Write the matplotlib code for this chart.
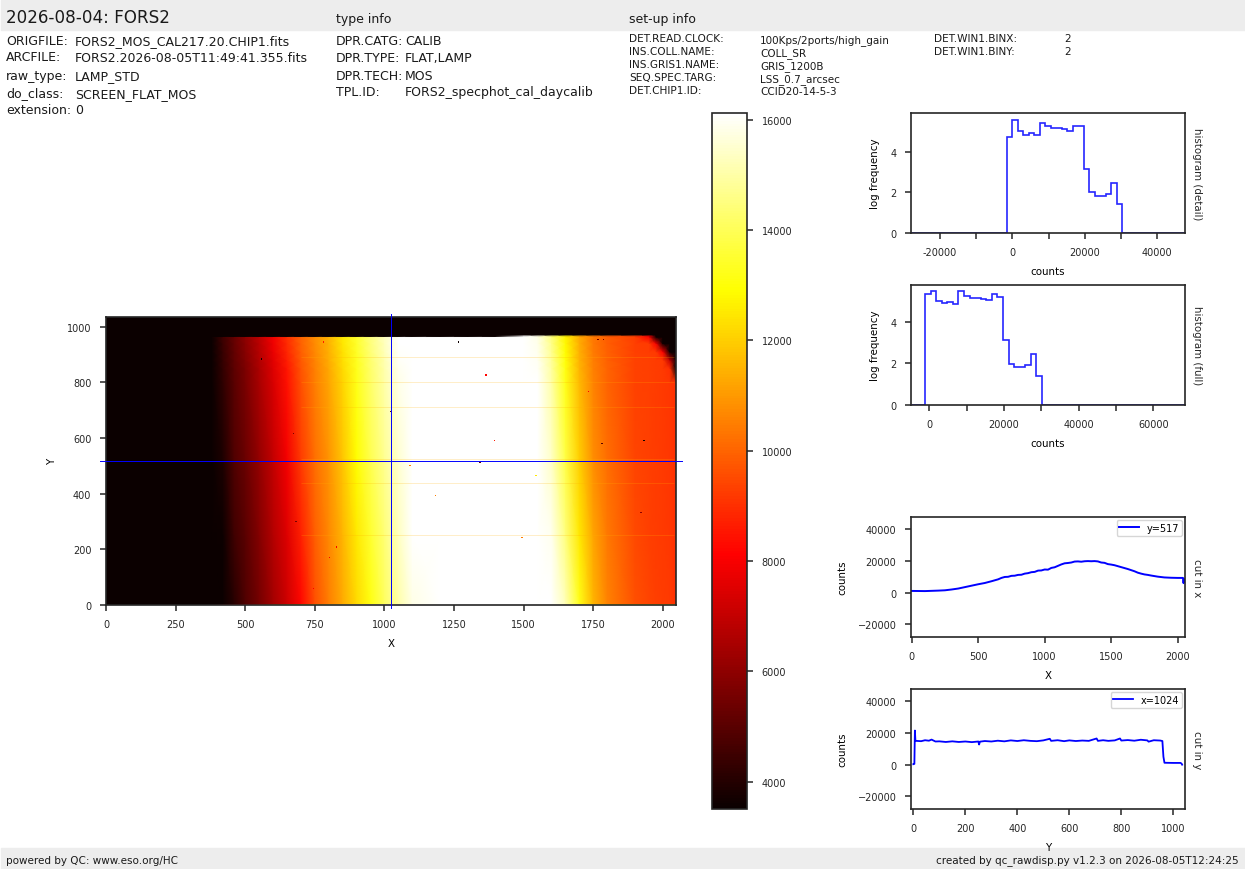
"""Raw frame display page: image with crosshair, histograms and cuts."""
import matplotlib
matplotlib.use('Agg')
import matplotlib.pyplot as plt
import numpy as np

W, H = 1245, 870

# header text
title = '2026-08-04: FORS2'
left_keys = ['ORIGFILE:', 'ARCFILE:', 'raw_type:', 'do_class:', 'extension:']
left_vals = ['FORS2_MOS_CAL217.20.CHIP1.fits', 'FORS2.2026-08-05T11:49:41.355.fits',
             'LAMP_STD', 'SCREEN_FLAT_MOS', '0']
type_keys = ['DPR.CATG:', 'DPR.TYPE:', 'DPR.TECH:', 'TPL.ID:']
type_vals = ['CALIB', 'FLAT,LAMP', 'MOS', 'FORS2_specphot_cal_daycalib']
setup_keys = ['DET.READ.CLOCK:', 'INS.COLL.NAME:', 'INS.GRIS1.NAME:', 'SEQ.SPEC.TARG:', 'DET.CHIP1.ID:']
setup_vals = ['100Kps/2ports/high_gain', 'COLL_SR', 'GRIS_1200B', 'LSS_0.7_arcsec', 'CCID20-14-5-3']
setup2_keys = ['DET.WIN1.BINX:', 'DET.WIN1.BINY:']
setup2_vals = ['2', '2']

x_knots = [0, 300, 380, 420, 460, 500, 550, 600, 650, 700, 750, 800, 850, 900, 950, 1000, 1050,
           1100, 1200, 1300, 1400, 1500, 1550, 1600, 1650, 1700, 1750, 1800, 1900, 1950, 1975,
           2000, 2025, 2047]
y_knots = [0, 3, 4.5, 250, 520, 800, 850, 880, 910, 940, 964, 966, 972, 1035]
row_bottom = [1000, 2500, 3800, 5000, 6500, 7500, 8800, 10000, 11200, 12300, 12900, 13800, 14800,
              15500, 16000, 16500, 17000, 17200, 17500, 17800, 17800, 17500, 17000, 16300, 15500,
              14500, 13500, 13000, 12900, 12900, 12900, 12900, 12900, 12900]
row_5 = [1000, 1800, 2600, 3400, 4100, 4800, 5500, 6400, 7200, 8200, 9600, 10500, 11300, 12200,
         13100, 14100, 15000, 15800, 17300, 19000, 19600, 18200, 17200, 16300, 15200, 13200, 11500,
         10600, 9600, 9400, 9300, 9250, 9200, 9000]
row_250 = [1000, 1900, 2800, 3600, 4500, 5000, 5800, 6700, 7500, 8700, 9900, 10700, 11500, 12500,
           13500, 14400, 15300, 16100, 17700, 19300, 19600, 17900, 16800, 15900, 14500, 12500, 11200,
           10400, 9500, 9300, 9250, 9200, 9150, 9000]
row_520 = [1000, 2000, 3000, 3900, 4800, 5300, 6100, 7000, 7900, 9200, 10200, 10900, 11800, 12900,
           13900, 14700, 15500, 16400, 18000, 19500, 19500, 17600, 16400, 15400, 13800, 12000, 10800,
           10200, 9400, 9300, 9250, 9200, 9150, 9000]
row_800 = [1000, 2100, 3300, 4200, 5000, 5600, 6500, 7400, 8400, 9600, 10500, 11200, 12100, 13200,
           14200, 15000, 15800, 16700, 18300, 19600, 19200, 17300, 16100, 15000, 13200, 11600, 10600,
           10000, 9350, 9300, 9250, 9200, 9150, 9000]
row_850 = [1000, 2100, 3300, 4250, 5050, 5650, 6550, 7500, 8500, 9700, 10550, 11250, 12200, 13250,
           14250, 15050, 15900, 16750, 18400, 19650, 19150, 17250, 16000, 14900, 13100, 11500, 10550,
           10000, 9350, 9300, 9250, 9200, 9000, 3500]
row_880 = [1000, 2150, 3350, 4300, 5100, 5750, 6650, 7600, 8650, 9800, 10600, 11350, 12300, 13300,
           14300, 15100, 16000, 16800, 18500, 19700, 19100, 17200, 15950, 14800, 13000, 11450, 10500,
           9950, 9350, 9300, 9250, 9200, 7000, 1000]
row_910 = [1000, 2150, 3400, 4350, 5150, 5850, 6750, 7700, 8800, 9900, 10700, 11400, 12350, 13400,
           14400, 15200, 16050, 16900, 18600, 19750, 19050, 17100, 15900, 14700, 12900, 11400, 10450,
           9950, 9300, 9250, 9200, 8000, 3500, 1000]
row_940 = [1000, 2200, 3450, 4400, 5200, 5900, 6800, 7800, 8900, 9950, 10750, 11450, 12450, 13450,
           14450, 15250, 16100, 16950, 18700, 19800, 19000, 17050, 15850, 14600, 12800, 11350, 10400,
           9900, 9300, 9250, 8000, 3500, 1000, 1000]
row_964 = [1000, 2200, 3500, 4500, 5200, 6000, 6900, 7900, 9000, 10000, 10800, 11500, 12500, 13500,
           14500, 15300, 16200, 17000, 18800, 19800, 19000, 17000, 15800, 14500, 12700, 11300, 10400,
           9900, 9300, 8000, 3500, 1000, 1000, 1000]
row_966 = [1000, 1000, 1000, 1000, 1000, 1000, 1000, 1000, 1000, 1000, 1000, 1000, 1000, 1000,
           1000, 1000, 1000, 1000, 1000, 1000, 1000, 17000, 15800, 14500, 12700, 11300, 10400,
           9900, 9300, 8000, 3500, 1000, 1000, 1000]
row_dark = [1000] * len(x_knots)
image_rows = [row_bottom, row_bottom, row_5, row_250, row_520, row_800, row_850, row_880, row_910,
              row_940, row_964, row_966, row_dark, row_dark]
vmin, vmax = 3510, 16127
cbar_ticks = [4000, 6000, 8000, 10000, 12000, 14000, 16000]

# faint bright rows and bad pixels in the frame
streak_y = [252, 438, 525, 712, 802, 890]
speck_x = [559, 780, 673, 1022, 682, 828, 804, 744, 1265, 1365, 1394, 1343, 1781, 1932, 1494, 1184,
           1767, 1787, 1921, 1734, 1092, 1544]
speck_y = [884, 945, 615, 694, 300, 208, 169, 59, 945, 827, 590, 511, 579, 590, 241, 392, 953, 953,
           331, 766, 500, 464]
speck_v = [3600, 8600, 5500, 5000, 5500, 8000, 8000, 8000, 3600, 8200, 8600, 5000, 5000, 3600, 10500,
           10500, 5500, 5500, 6000, 8000, 10500, 12500]
cross_x = 1024
cross_y = 517

# histograms
detail_edges = [-28000, -1550, -70, 1450, 2970, 4490, 6010, 7530, 9050, 10570, 12090, 13610, 15130,
                16650, 18170, 19690, 21210, 22730, 24250, 25770, 27290, 28810, 30330, 47700]
detail_log = [0, 4.72, 5.6, 5.02, 4.85, 4.95, 4.85, 5.45, 5.27, 5.17, 5.17, 5.12, 5.05, 5.27, 5.27,
              3.18, 2.02, 1.8, 1.8, 1.9, 2.46, 1.41, 0]
full_edges = [-4900, -1150, 340, 1840, 3330, 4820, 6310, 7810, 9300, 10790, 12290, 13780, 15270, 16770,
              18260, 19750, 21250, 22740, 24230, 25730, 27220, 28710, 30200, 68500]
full_log = [0, 5.35, 5.5, 5.0, 4.93, 4.98, 4.88, 5.5, 5.27, 5.18, 5.18, 5.13, 5.06, 5.37, 5.22, 3.13,
            1.98, 1.84, 1.84, 1.93, 2.47, 1.4, 0]
detail_ticks = [-20000, -10000, 0, 10000, 20000, 30000, 40000]
detail_labels = ['-20000', '', '0', '', '20000', '', '40000']
full_ticks = [0, 10000, 20000, 30000, 40000, 50000, 60000]
full_labels = ['0', '', '20000', '', '40000', '', '60000']

# cut along x at y=517
cutx_x = [0, 50, 100, 150, 200, 250, 300, 350, 400, 450, 500, 550, 600, 650, 675, 700, 725, 750, 775,
          800, 825, 850, 875, 900, 925, 950, 975, 1000, 1025, 1050, 1075, 1100, 1125, 1150, 1175, 1200,
          1225, 1250, 1275, 1300, 1325, 1350, 1375, 1400, 1425, 1450, 1475, 1500, 1525, 1550, 1575,
          1600, 1625, 1650, 1675, 1700, 1725, 1750, 1775, 1800, 1850, 1900, 1950, 2000, 2040, 2044, 2047]
cutx_v = [1100, 1050, 1000, 1150, 1300, 1500, 2000, 2600, 3500, 4400, 5300, 6100, 7200, 8400, 9300,
          9900, 10000, 10600, 10700, 11200, 11300, 12000, 12300, 12900, 13100, 13900, 14000, 14600, 14500,
          15600, 16000, 16900, 17800, 18500, 18700, 19000, 19600, 19700, 19500, 19800, 19900, 19800,
          19900, 19700, 19000, 18800, 18000, 17700, 17300, 16700, 16100, 15500, 14900, 14200, 13500,
          12600, 12000, 11500, 11200, 10800, 10100, 9600, 9400, 9300, 9300, 6000, 8500]
# cut along y at x=1024
cuty_y = [0, 4, 6, 8, 10, 30, 45, 60, 70, 85, 100, 125, 150, 175, 200, 225, 250, 253, 256, 275, 300, 325,
          350, 375, 400, 425, 450, 475, 500, 525, 530, 555, 580, 600, 625, 650, 675, 705, 710, 730, 750,
          775, 795, 800, 825, 850, 875, 900, 905, 925, 950, 958, 962, 966, 1000, 1028, 1032, 1034]
cuty_v = [300, 500, 21500, 15000, 15000, 14800, 15400, 15100, 15800, 14600, 14700, 14300, 14700, 14300,
          14600, 14200, 14600, 12700, 14500, 14900, 14600, 15100, 14700, 15300, 14900, 15400, 15000, 14800,
          15300, 16300, 15000, 15400, 14800, 15300, 14900, 15200, 15000, 16500, 15000, 15400, 15000, 15300,
          16500, 15200, 15500, 15100, 15700, 15300, 14500, 15400, 15200, 14900, 5000, 1200, 1100, 1100, 600, 0]


def place(left, top, right, bottom):
    # axes box given in pixels of the page, reference is one pixel lower than the raw reading
    return fig.add_axes([left / W, 1 - (bottom + 0.8) / H, (right - left) / W, (bottom - top) / H])


def put(x, y, s, size=9.0):
    fig.text(x / W, 1 - (y + 0.4) / H, s, fontsize=size, va='center', ha='left', color='.1')


def style(ax):
    for sp in ax.spines.values():
        sp.set_linewidth(1.2)
        sp.set_color('.15')
    ax.tick_params(labelsize=7, length=4.5, width=1.1, color='.15', labelcolor='.15', pad=6)
    ax.xaxis.label.set_size(7.4)
    ax.yaxis.label.set_size(7.4)
    ax.xaxis.labelpad = 6
    ax.yaxis.labelpad = 7


def side_label(ax, s):
    ax.text(1.045, 0.5, s, transform=ax.transAxes, rotation=270, fontsize=7.4, va='center', ha='center',
            color='.15')


fig = plt.figure(figsize=(W / 100, H / 100), dpi=100)
plt.rcParams['font.family'] = 'DejaVu Sans'

# grey bands
fig.patches.append(plt.Rectangle((1 / W, 1 - 30.5 / H), 1244 / W, 29.5 / H, transform=fig.transFigure,
                                 color='#ededed', zorder=-1))
fig.patches.append(plt.Rectangle((1 / W, 1 - 869.5 / H), 1244 / W, 20.5 / H, transform=fig.transFigure,
                                 color='#ededed', zorder=-1))

put(6, 18, title, 12.1)
put(336, 19, 'type info')
put(629, 19, 'set-up info')
for s, v, y in zip(left_keys, left_vals, [41, 57.5, 76, 93.5, 110]):
    put(6, y, s)
    put(75, y + 0.5, v)
for s, v, y in zip(type_keys, type_vals, [41, 58, 76, 92.5]):
    put(336, y, s)
    put(405, y, v)
for s, v, y in zip(setup_keys, setup_vals, [39, 52, 65, 78, 91]):
    put(629, y, s, 7.6)
    put(760, y + 1, v, 7.5)
for s, v, y in zip(setup2_keys, setup2_vals, [39, 52]):
    put(934, y, s, 7.6)
    put(1064, y, v, 7.5)
put(6, 860.5, 'powered by QC: www.eso.org/HC', 7.5)
fig.text(1239 / W, 1 - 861 / H, 'created by qc_rawdisp.py v1.2.3 on 2026-08-05T12:24:25', fontsize=7.5,
         va='center', ha='right', color='.1')

# main image
ax_im = place(106, 317, 676, 605)
xx, yy = np.meshgrid(x_knots, y_knots)
mesh = ax_im.pcolormesh(xx, yy, np.array(image_rows, dtype=float), cmap='hot', vmin=vmin, vmax=vmax,
                        shading='gouraud')
ax_im.hlines(streak_y, 700, 2040, color='#ffb000', alpha=0.3, lw=0.5)
ax_im.scatter(speck_x, speck_y, c=speck_v, cmap='hot', vmin=vmin, vmax=vmax, marker='s', s=0.8,
              linewidths=0, zorder=3)
ax_im.plot([cross_x, cross_x], [-11, 1046], color='blue', lw=0.7, clip_on=False, zorder=4)
ax_im.plot([-22, 2070], [cross_y, cross_y], color='blue', lw=0.7, clip_on=False, zorder=4)
ax_im.set_xlim(0, 2047)
ax_im.set_ylim(0, 1036)
ax_im.set_xticks([0, 250, 500, 750, 1000, 1250, 1500, 1750, 2000])
ax_im.set_yticks([0, 200, 400, 600, 800, 1000])
ax_im.set_xlabel('X')
ax_im.set_ylabel('Y')
style(ax_im)

# colour bar
cax = place(712, 113, 747, 809)
cbar = fig.colorbar(mesh, cax=cax, ticks=cbar_ticks)
cbar.outline.set_linewidth(1.2)
cbar.outline.set_edgecolor('.15')
style(cax)

# histograms
ax_h1 = place(911, 113, 1185, 233)
ax_h1.stairs(detail_log, detail_edges, color='blue', lw=1.2, baseline=None, alpha=0.85)
ax_h1.set_xlim(-28000, 47700)
ax_h1.set_ylim(0, 5.94)
ax_h1.set_xticks(detail_ticks, detail_labels)
ax_h1.set_yticks([0, 2, 4])
ax_h1.set_xlabel('counts')
ax_h1.set_ylabel('log frequency')
style(ax_h1)
side_label(ax_h1, 'histogram (detail)')

ax_h2 = place(911, 285, 1185, 405)
ax_h2.stairs(full_log, full_edges, color='blue', lw=1.2, baseline=None, alpha=0.85)
ax_h2.set_xlim(-4900, 68500)
ax_h2.set_ylim(0, 5.8)
ax_h2.set_xticks(full_ticks, full_labels)
ax_h2.set_yticks([0, 2, 4])
ax_h2.set_xlabel('counts')
ax_h2.set_ylabel('log frequency')
style(ax_h2)
side_label(ax_h2, 'histogram (full)')

# cuts
ax_cx = place(911, 517, 1185, 637)
ax_cx.plot(cutx_x, cutx_v, color='blue', lw=1.4, label='y=%d' % cross_y)
ax_cx.set_xlim(-5, 2055)
ax_cx.set_ylim(-27800, 47800)
ax_cx.set_xticks([0, 500, 1000, 1500, 2000])
ax_cx.set_yticks([-20000, 0, 20000, 40000])
ax_cx.set_xlabel('X')
ax_cx.set_ylabel('counts')
ax_cx.legend(loc='upper right', fontsize=7, borderpad=0.3, borderaxespad=0.3)
style(ax_cx)
side_label(ax_cx, 'cut in x')

ax_cy = place(911, 689, 1185, 809)
ax_cy.plot(cuty_y, cuty_v, color='blue', lw=1.3, label='x=%d' % cross_x)
ax_cy.set_xlim(-9, 1045)
ax_cy.set_ylim(-27800, 47800)
ax_cy.set_xticks([0, 200, 400, 600, 800, 1000])
ax_cy.set_yticks([-20000, 0, 20000, 40000])
ax_cy.set_xlabel('Y')
ax_cy.set_ylabel('counts')
ax_cy.legend(loc='upper right', fontsize=7, borderpad=0.3, borderaxespad=0.3)
style(ax_cy)
side_label(ax_cy, 'cut in y')

fig.savefig('out.png', dpi=100)
